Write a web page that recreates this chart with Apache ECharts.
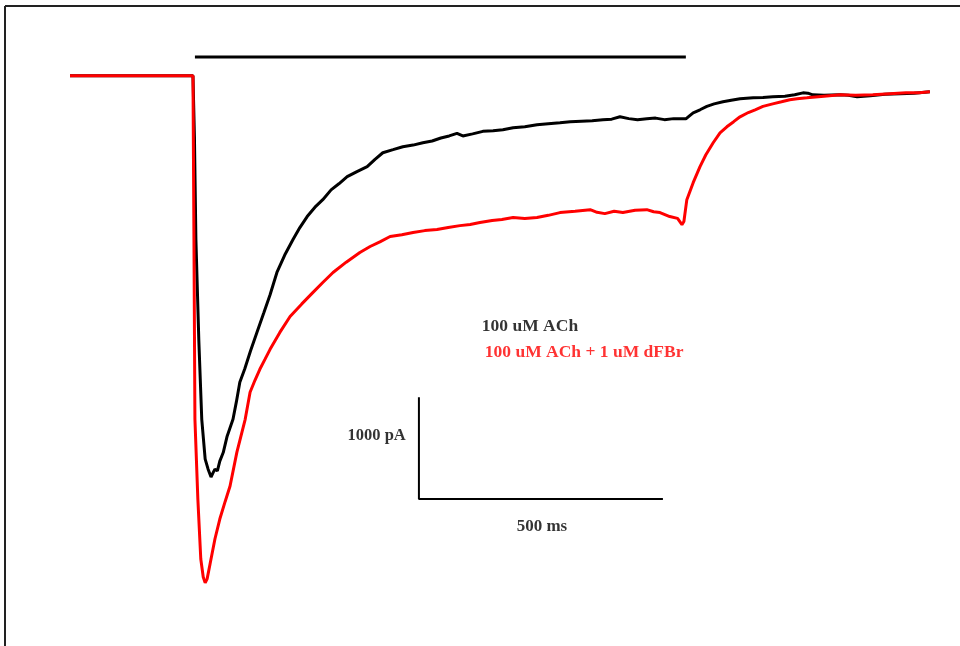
<!DOCTYPE html>
<html>
<head>
<meta charset="utf-8">
<script src="https://cdn.jsdelivr.net/npm/echarts@6/dist/echarts.min.js"></script>
<style>
html,body{margin:0;padding:0;background:#fff;}
#chart{width:960px;height:646px;}
</style>
</head>
<body>
<div id="chart"></div>
<script>
// ---- data (time in ms, current in pA) ----
var blackTime = [0, 252, 255, 258, 264, 270, 277, 283, 289, 293, 297, 302, 307, 314, 322, 334, 341, 348, 358, 370, 383, 397, 410, 424, 440, 457, 471, 486, 502, 518, 535, 551, 568, 588, 609, 625, 641, 662, 682, 703, 723, 742, 760, 777, 793, 805, 825, 846, 867, 887, 908, 932, 957, 980, 1004, 1025, 1048, 1070, 1092, 1110, 1127, 1145, 1163, 1182, 1200, 1218, 1237, 1256, 1262, 1270, 1277, 1291, 1305, 1320, 1338, 1355, 1373, 1400, 1420, 1440, 1465, 1485, 1502, 1512, 1522, 1545, 1578, 1595, 1613, 1640, 1670, 1701, 1730, 1762];
var blackCurrent = [0, 0, -600, -1608, -2600, -3373, -3765, -3863, -3941, -3900, -3863, -3880, -3784, -3700, -3539, -3373, -3200, -3010, -2880, -2700, -2520, -2330, -2150, -1931, -1760, -1608, -1490, -1382, -1290, -1216, -1120, -1060, -990, -940, -892, -820, -755, -725, -696, -680, -657, -640, -610, -590, -565, -590, -570, -545, -540, -529, -510, -500, -480, -470, -460, -451, -445, -440, -431, -425, -402, -420, -430, -422, -415, -430, -420, -422, -422, -390, -363, -333, -300, -275, -255, -240, -225, -215, -212, -206, -200, -185, -167, -170, -186, -190, -186, -190, -206, -195, -180, -176, -170, -157];

var redTime = [0, 252, 254, 256, 262, 268, 273, 277, 281, 287, 297, 307, 318, 328, 342, 359, 369, 379, 389, 400, 410, 430, 451, 475, 498, 518, 539, 566, 594, 615, 635, 656, 680, 703, 727, 752, 775, 799, 820, 840, 865, 885, 908, 932, 957, 980, 1004, 1035, 1066, 1080, 1096, 1115, 1133, 1158, 1182, 1196, 1209, 1229, 1245, 1254, 1258, 1264, 1277, 1291, 1303, 1318, 1332, 1346, 1360, 1373, 1390, 1404, 1420, 1440, 1458, 1475, 1490, 1510, 1545, 1578, 1610, 1645, 1680, 1713, 1740, 1762];
var redCurrent = [0, 0, -1608, -3373, -4157, -4745, -4922, -4980, -4941, -4794, -4549, -4353, -4180, -4029, -3696, -3373, -3108, -2990, -2882, -2780, -2686, -2520, -2363, -2240, -2127, -2030, -1931, -1830, -1735, -1676, -1630, -1578, -1560, -1539, -1520, -1510, -1490, -1471, -1460, -1441, -1420, -1410, -1392, -1400, -1392, -1370, -1343, -1330, -1314, -1340, -1353, -1330, -1343, -1320, -1314, -1335, -1343, -1382, -1400, -1461, -1431, -1216, -1049, -892, -775, -657, -559, -500, -450, -402, -360, -333, -300, -275, -255, -235, -225, -216, -200, -186, -190, -186, -175, -167, -165, -157];

var agonistBarTime = [256, 1262];   // application of ACh
var agonistBarLevel = 186;

var scaleBarTime = [715, 1215];     // 500 ms
var scaleBarCurrent = [-3157, -4157]; // 1000 pA

var legendLabels = ['100 uM ACh', '100 uM ACh + 1 uM dFBr'];
var scaleLabels = ['1000 pA', '500 ms'];

// ---- layout helpers ----
var pxPerMs = 0.488, pxPerPA = 0.102;
var xMin = 0, xMax = 1800, yMin = -5600, yMax = 700;
var baselinePx = 76, gridLeft = 70;

function zip(a, b) { return a.map(function (v, i) { return [v, b[i]]; }); }

var chart = echarts.init(document.getElementById('chart'));

function textPoint(x, y, text, color, align, size) {
  return {
    type: 'scatter', symbolSize: 0, silent: true, z: 10,
    data: [[x, y]],
    label: {
      show: true, position: 'inside', formatter: text, color: color, align: align, verticalAlign: 'middle',
      fontFamily: 'Liberation Serif', fontWeight: 'bold', fontSize: size,
      textBorderWidth: 0, textShadowBlur: 0
    }
  };
}

chart.setOption({
  animation: false,
  backgroundColor: '#ffffff',
  grid: {
    left: gridLeft,
    top: baselinePx - yMax * pxPerPA,
    width: (xMax - xMin) * pxPerMs,
    height: (yMax - yMin) * pxPerPA
  },
  xAxis: { type: 'value', min: xMin, max: xMax, show: false },
  yAxis: { type: 'value', min: yMin, max: yMax, show: false },
  graphic: [
    { type: 'line', shape: { x1: 5, y1: 6, x2: 960, y2: 6 }, style: { stroke: '#222', lineWidth: 2 } },
    { type: 'line', shape: { x1: 5, y1: 6, x2: 5, y2: 646 }, style: { stroke: '#222', lineWidth: 2 } }
  ],
  series: [
    {
      type: 'line', data: zip(blackTime, blackCurrent), showSymbol: false, z: 2,
      lineStyle: { color: '#000', width: 3 }
    },
    {
      type: 'line', data: zip(redTime, redCurrent), showSymbol: false, z: 3,
      lineStyle: { color: '#ff0000', width: 3 }
    },
    {
      type: 'line', data: agonistBarTime.map(function (t) { return [t, agonistBarLevel]; }), showSymbol: false, z: 2,
      lineStyle: { color: '#000', width: 3 }
    },
    {
      type: 'line', showSymbol: false, z: 2,
      data: [[scaleBarTime[0], scaleBarCurrent[0]], [scaleBarTime[0], scaleBarCurrent[1]], [scaleBarTime[1], scaleBarCurrent[1]]],
      lineStyle: { color: '#000', width: 2 }
    },
    textPoint(844, -2461, legendLabels[0], '#000', 'left', 17.5),
    textPoint(850, -2716, legendLabels[1], '#ff0000', 'left', 17.5),
    textPoint(688, -3539, scaleLabels[0], '#000', 'right', 16.5),
    textPoint(967, -4431, scaleLabels[1], '#000', 'center', 17)
  ]
});
</script>
</body>
</html>
